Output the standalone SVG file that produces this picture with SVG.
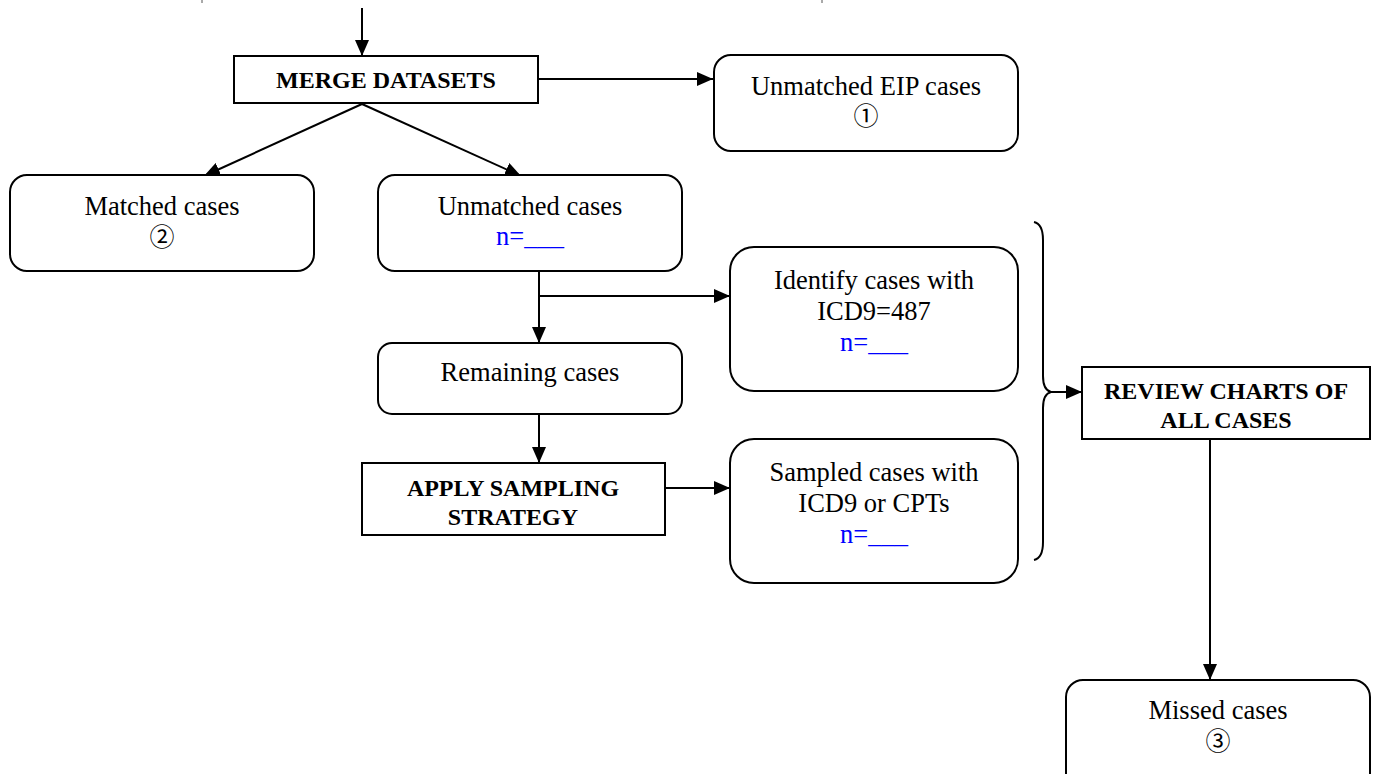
<svg xmlns="http://www.w3.org/2000/svg" width="1376" height="774" viewBox="0 0 1376 774">
<defs>
<marker id="ah" markerWidth="16" markerHeight="14" refX="16" refY="7" orient="auto" markerUnits="userSpaceOnUse">
<path d="M0,0 L16,7 L0,14 Z" fill="#000"/>
</marker>
<style>
.box{fill:#fff;stroke:#000;stroke-width:2}
.t{font-family:"Liberation Serif","DejaVu Serif",serif;font-size:26.5px;fill:#000;text-anchor:middle}
.b{font-weight:bold;font-size:24px}
.n{fill:#0000ff}
.d{font-family:"Noto Sans CJK SC","DejaVu Sans",sans-serif;font-size:25px}
.c{fill:none;stroke:#000;stroke-width:2}
</style>
</defs>
<rect width="1376" height="774" fill="#fff"/>
<line x1="202" y1="0" x2="202" y2="3" stroke="#555" stroke-width="1"/>
<line x1="822" y1="0" x2="822" y2="3" stroke="#555" stroke-width="1"/>
<g id="connectors">
<line class="c" x1="362" y1="8" x2="362" y2="56" marker-end="url(#ah)"/>
<line class="c" x1="538" y1="79" x2="713" y2="79" marker-end="url(#ah)"/>
<line class="c" x1="362" y1="104" x2="204" y2="176" marker-end="url(#ah)"/>
<line class="c" x1="362" y1="104" x2="521" y2="176" marker-end="url(#ah)"/>
<line class="c" x1="539" y1="271" x2="539" y2="343" marker-end="url(#ah)"/>
<line class="c" x1="539" y1="296" x2="730" y2="296" marker-end="url(#ah)"/>
<line class="c" x1="539" y1="414" x2="539" y2="463" marker-end="url(#ah)"/>
<line class="c" x1="665" y1="488" x2="730" y2="488" marker-end="url(#ah)"/>
<path class="c" stroke-width="3" d="M1034,222 Q1043,224 1043,240 L1043,376 Q1043,390 1051,392 Q1043,394 1043,408 L1043,542 Q1043,558 1034,560"/>
<line class="c" x1="1051" y1="392" x2="1082" y2="392" marker-end="url(#ah)"/>
<line class="c" x1="1210" y1="439" x2="1210" y2="680" marker-end="url(#ah)"/>
</g>
<g id="merge">
<rect class="box" x="234" y="56" width="304" height="47"/>
<text class="t b" x="386" y="88">MERGE DATASETS</text>
</g>
<g id="unmatched-eip">
<rect class="box" x="714" y="55" width="304" height="96" rx="17"/>
<text class="t" x="866" y="95">Unmatched EIP cases</text>
<text class="t d" x="866" y="125">①</text>
</g>
<g id="matched">
<rect class="box" x="10" y="175" width="304" height="96" rx="17"/>
<text class="t" x="162" y="215">Matched cases</text>
<text class="t d" x="162" y="246">②</text>
</g>
<g id="unmatched">
<rect class="box" x="378" y="175" width="304" height="96" rx="17"/>
<text class="t" x="530" y="215">Unmatched cases</text>
<text class="t n" x="530" y="245">n=___</text>
</g>
<g id="identify">
<rect class="box" x="730" y="247" width="288" height="144" rx="24"/>
<text class="t" x="874" y="289">Identify cases with</text>
<text class="t" x="874" y="320">ICD9=487</text>
<text class="t n" x="874" y="351">n=___</text>
</g>
<g id="remaining">
<rect class="box" x="378" y="343" width="304" height="71" rx="14"/>
<text class="t" x="530" y="381">Remaining cases</text>
</g>
<g id="apply">
<rect class="box" x="362" y="463" width="303" height="72"/>
<text class="t b" x="513" y="496">APPLY SAMPLING</text>
<text class="t b" x="513" y="525">STRATEGY</text>
</g>
<g id="sampled">
<rect class="box" x="730" y="439" width="288" height="144" rx="24"/>
<text class="t" x="874" y="481">Sampled cases with</text>
<text class="t" x="874" y="512">ICD9 or CPTs</text>
<text class="t n" x="874" y="543">n=___</text>
</g>
<g id="review">
<rect class="box" x="1082" y="367" width="288" height="72"/>
<text class="t b" x="1226" y="399">REVIEW CHARTS OF</text>
<text class="t b" x="1226" y="428">ALL CASES</text>
</g>
<g id="missed">
<rect class="box" x="1066" y="680" width="304" height="110" rx="17"/>
<text class="t" x="1218" y="719">Missed cases</text>
<text class="t d" x="1218" y="750">③</text>
</g>
</svg>
